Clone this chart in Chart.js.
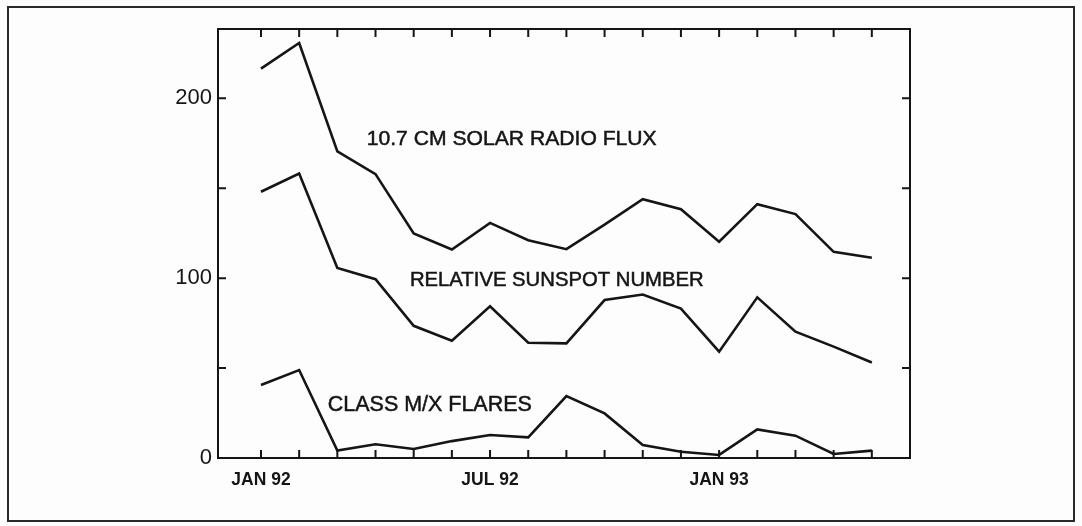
<!DOCTYPE html>
<html>
<head>
<meta charset="utf-8">
<script src="https://cdn.jsdelivr.net/npm/chart.js@4"></script>
<style>
  html, body { margin: 0; padding: 0; background: #fdfdfd; }
  #wrap { position: relative; width: 1082px; height: 526px; }
  #frame {
    position: absolute; left: 7px; top: 6px;
    width: 1064px; height: 512px;
    border: 2px solid #2a2a2a; pointer-events: none;
  }
</style>
</head>
<body>
<div id="wrap">
  <canvas id="solarChart" width="1082" height="526"></canvas>
  <div id="frame"></div>
</div>
<script>
// ── Data ──────────────────────────────────

const months = [
  'JAN 92', 'FEB 92', 'MAR 92', 'APR 92', 'MAY 92', 'JUN 92',
  'JUL 92', 'AUG 92', 'SEP 92', 'OCT 92', 'NOV 92', 'DEC 92',
  'JAN 93', 'FEB 93', 'MAR 93', 'APR 93', 'MAY 93'
];
const solarFlux = [216.5, 230.7, 170.5, 157.8, 124.8, 115.9, 130.7, 121.1, 116.1,
                   129.7, 143.9, 138.3, 120.2, 141.1, 135.6, 114.6, 111.3];
const sunspots  = [148.0, 158.1, 105.7, 99.4, 73.5, 65.2, 84.4, 64.1, 63.7,
                   87.8, 90.9, 83.1, 59.1, 89.3, 70.2, 61.9, 53.1];
const flares    = [40.6, 48.9, 4.1, 7.6, 5.0, 9.4, 12.8, 11.5, 34.4,
                   24.8, 7.2, 3.5, 1.7, 15.9, 12.4, 2.2, 4.1];
const xTickLabels = ['JAN 92', 'JUL 92', 'JAN 93'];
const yTicks      = [0, 100, 200];
const yMinorTicks = [50, 150];
const seriesNames = ['10.7 CM SOLAR RADIO FLUX', 'RELATIVE SUNSPOT NUMBER', 'CLASS M/X FLARES'];

// ── Helpers ──────────────────────────────

const INK = '#151515';
const FONT = '"Liberation Sans", Arial, sans-serif';

function toPoints(values) {
  return values.map((v, i) => ({ x: i, y: v }));
}

function lineSet(label, values) {
  return {
    label: label,
    data: toPoints(values),
    borderColor: INK,
    borderWidth: 2.6,
    pointRadius: 0,
    tension: 0,
    borderJoinStyle: 'miter',
    fill: false
  };
}

// series captions, placed in data units (left edge, baseline)
const captions = [
  { text: seriesNames[0], x: 2.77, y: 174.0, width: 290 },
  { text: seriesNames[1], x: 3.90, y: 95.5,  width: 294 },
  { text: seriesNames[2], x: 1.75, y: 26.2,  width: 204 }
];

// ── Plugins ──────────────────────────────

const framePlugin = {
  id: 'frame',
  afterDatasetsDraw(chart) {
    const { ctx, chartArea: a, scales: { x, y } } = chart;
    const len = 8;
    ctx.save();
    ctx.strokeStyle = INK;
    ctx.lineWidth = 2;
    ctx.strokeRect(a.left, a.top, a.right - a.left, a.bottom - a.top);
    ctx.beginPath();
    months.forEach((m, i) => {
      const px = x.getPixelForValue(i);
      ctx.moveTo(px, a.bottom); ctx.lineTo(px, a.bottom - len);
      ctx.moveTo(px, a.top);    ctx.lineTo(px, a.top + len);
    });
    yTicks.concat(yMinorTicks).forEach(v => {
      if (v === 0) return;
      const py = y.getPixelForValue(v);
      ctx.moveTo(a.left, py);  ctx.lineTo(a.left + len, py);
      ctx.moveTo(a.right, py); ctx.lineTo(a.right - len, py);
    });
    ctx.stroke();
    ctx.restore();
  }
};

const captionPlugin = {
  id: 'captions',
  afterDatasetsDraw(chart) {
    const { ctx, scales: { x, y } } = chart;
    ctx.save();
    ctx.fillStyle = INK;
    ctx.strokeStyle = INK;
    ctx.lineWidth = 0.5;
    ctx.textBaseline = 'alphabetic';
    ctx.textAlign = 'left';
    captions.forEach(c => {
      ctx.font = `20px ${FONT}`;
      const w = ctx.measureText(c.text).width;
      const size = 20 * c.width / w;
      ctx.font = `${size.toFixed(2)}px ${FONT}`;
      const px = x.getPixelForValue(c.x), py = y.getPixelForValue(c.y);
      ctx.fillText(c.text, px, py);
      ctx.strokeText(c.text, px, py);
    });
    ctx.restore();
  }
};

// ── Chart Setup ──────────────────────────

const ctx = document.getElementById('solarChart').getContext('2d');
const chart = new Chart(ctx, {
  type: 'line',
  data: {
    datasets: [
      lineSet(seriesNames[0], solarFlux),
      lineSet(seriesNames[1], sunspots),
      lineSet(seriesNames[2], flares)
    ]
  },
  options: {
    responsive: false,
    animation: false,
    layout: { padding: { left: 0, top: 29, right: 172, bottom: 0 } },
    plugins: { legend: { display: false }, tooltip: { enabled: false } },
    scales: {
      x: {
        type: 'linear',
        min: -1.126,
        max: 17,
        grid: { display: false, drawTicks: false },
        border: { display: false },
        afterBuildTicks: s => { s.ticks = xTickLabels.map(l => ({ value: months.indexOf(l) })); },
        afterFit: s => { s.height = 68; },
        ticks: {
          autoSkip: false,
          maxRotation: 0,
          padding: 12,
          color: INK,
          font: { family: FONT, size: 17.5, weight: 'bold' },
          callback: v => months[v]
        }
      },
      y: {
        min: 0,
        max: 238.5,
        grid: { display: false, drawTicks: false },
        border: { display: false },
        afterBuildTicks: s => { s.ticks = yTicks.map(v => ({ value: v })); },
        afterFit: s => { s.width = 218; },
        ticks: {
          padding: 6,
          color: INK,
          font: { family: FONT, size: 22 }
        }
      }
    }
  },
  plugins: [framePlugin, captionPlugin]
});
</script>
</body>
</html>
